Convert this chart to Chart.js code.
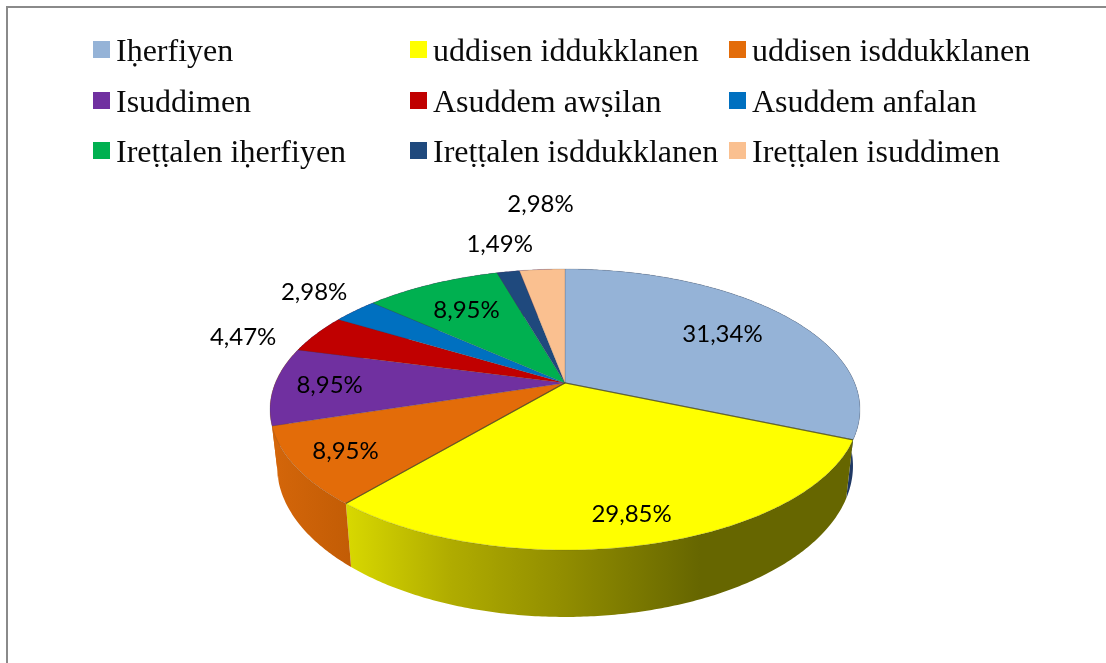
<!DOCTYPE html>
<html>
<head>
<meta charset="utf-8">
<script src="https://cdn.jsdelivr.net/npm/chart.js@4"></script>
<style>
    html, body { margin: 0; padding: 0; background: #fff; }
    #wrap { position: relative; width: 1106px; height: 663px; overflow: hidden; }
    #frame { position: absolute; left: 6px; top: 6px; width: 1100px; height: 657px; border-left: 2px solid #8a8a8a; border-top: 2px solid #8a8a8a; }
    canvas { position: absolute; left: 0; top: 0; }
    .leg-box { position: absolute; width: 17px; height: 17px; }
    .leg-text { position: absolute; font: 32px "Liberation Serif", serif; color: #0a0a0a; white-space: nowrap; line-height: 34px; }
</style>
</head>
<body>
<div id="wrap">
    <div id="frame"></div>
    <canvas id="pie" width="1106" height="663"></canvas>
    <div id="legend"></div>
</div>
<script>
const categories = ['Iḥerfiyen', 'uddisen iddukklanen', 'uddisen isddukklanen', 'Isuddimen', 'Asuddem awṣilan', 'Asuddem anfalan', 'Ireṭṭalen iḥerfiyen', 'Ireṭṭalen isddukklanen', 'Ireṭṭalen isuddimen'];
const values = [31.34, 29.85, 8.95, 8.95, 4.47, 2.98, 8.95, 1.49, 2.98];
const colors = ['#95b3d7', '#ffff00', '#e36c09', '#7030a0', '#c00000', '#0070c0', '#00b050', '#1f497d', '#fac090'];

// how far out each percent label sits (1 = rim), and a small turn in degrees
const labelRadius = [0.70, 0.84, 0.83, 0.81, 1.24, 1.255, 0.71, 1.30, 1.76];
const labelTurn = [0, 0, 0, 0, -6, 1.5, 0, 1, 1.7];

const legendCols = [93, 410, 729];
const legendRows = [41, 92, 142];

// perspective of the disc: the tip of the slices is not the ellipse centre
const CX = 565, K = 0.1886;
const TOP_FACE = { a: 289.7, b: 135.5, y0: 383 };
const BOTTOM_FACE = { a: 282.8, b: 145.6, y0: 437.5 };

const project = (face, angle, r = 1) => {
    const u = r * Math.cos(angle), v = r * Math.sin(angle);
    const w = 1 - K * v;
    return { x: CX + face.a * u / w, y: face.y0 + face.b * v / w };
};

const rimPoints = (face, start, end) => {
    const steps = Math.max(2, Math.ceil((end - start) / 0.01));
    const pts = [];
    for (let i = 0; i <= steps; i++) pts.push(project(face, start + (end - start) * i / steps));
    return pts;
};

const hGradient = (ctx, stops) => {
    const g = ctx.createLinearGradient(270, 0, 860, 0);
    stops.forEach(s => g.addColorStop((s[0] - 270) / 590, s[1]));
    return g;
};

const wallFill = (ctx, i) => {
    if (i === 0) return '#1f3864';
    if (i === 1) return hGradient(ctx, [[347, '#d8d800'], [450, '#b0ac00'], [560, '#928e00'], [700, '#666600'], [860, '#666600']]);
    if (i === 2) return hGradient(ctx, [[272, '#d4660a'], [352, '#c25c05']]);
    if (i === 3) return '#d4660a';
    return '#5a2784';
};

const perspectivePie = {
    id: 'perspectivePie',
    beforeDatasetDraw(chart, args) {
        const ctx = chart.ctx;
        const arcs = chart.getDatasetMeta(args.index).data;
        ctx.save();

        // side wall
        arcs.forEach((arc, i) => {
            const top = rimPoints(TOP_FACE, arc.startAngle, arc.endAngle);
            const bottom = rimPoints(BOTTOM_FACE, arc.startAngle, arc.endAngle).reverse();
            ctx.beginPath();
            top.concat(bottom).forEach((p, n) => n ? ctx.lineTo(p.x, p.y) : ctx.moveTo(p.x, p.y));
            ctx.closePath();
            ctx.fillStyle = wallFill(ctx, i);
            ctx.fill();
        });

        // top face
        const tip = project(TOP_FACE, 0, 0);
        arcs.forEach((arc) => {
            ctx.beginPath();
            ctx.moveTo(tip.x, tip.y);
            rimPoints(TOP_FACE, arc.startAngle, arc.endAngle).forEach(p => ctx.lineTo(p.x, p.y));
            ctx.closePath();
            ctx.fillStyle = arc.options.backgroundColor;
            ctx.fill();
            ctx.strokeStyle = 'rgba(60,60,60,0.18)';
            ctx.lineWidth = 1;
            ctx.stroke();
        });

        // the yellow slice has a darker edge
        ctx.strokeStyle = 'rgba(70,70,30,0.75)';
        ctx.lineWidth = 1.2;
        ctx.beginPath();
        const a = project(TOP_FACE, arcs[1].startAngle), b = project(TOP_FACE, arcs[1].endAngle);
        ctx.moveTo(a.x, a.y);
        ctx.lineTo(tip.x, tip.y);
        ctx.lineTo(b.x, b.y);
        ctx.stroke();

        // percent labels
        ctx.fillStyle = '#000';
        ctx.font = '24px Lato, sans-serif';
        ctx.textAlign = 'center';
        ctx.textBaseline = 'middle';
        arcs.forEach((arc, i) => {
            const mid = (arc.startAngle + arc.endAngle) / 2 + labelTurn[i] * Math.PI / 180;
            const p = project(TOP_FACE, mid, labelRadius[i]);
            ctx.fillText(values[i].toFixed(2).replace('.', ',') + '%', p.x, p.y);
        });

        ctx.restore();
        return false;
    }
};

const renderLegend = () => {
    const box = document.getElementById('legend');
    categories.forEach((name, i) => {
        const x = legendCols[i % 3], y = legendRows[Math.floor(i / 3)];
        const swatch = document.createElement('div');
        swatch.className = 'leg-box';
        swatch.style.cssText = `left:${x}px;top:${y}px;background:${colors[i]}`;
        const text = document.createElement('div');
        text.className = 'leg-text';
        text.style.cssText = `left:${x + 23}px;top:${y - 8}px`;
        text.textContent = name;
        box.append(swatch, text);
    });
};

renderLegend();

new Chart(document.getElementById('pie'), {
    type: 'pie',
    data: {
        labels: categories,
        datasets: [{ data: values, backgroundColor: colors }]
    },
    options: {
        responsive: false,
        animation: false,
        plugins: { legend: { display: false }, tooltip: { enabled: false } }
    },
    plugins: [perspectivePie]
});
</script>
</body>
</html>
